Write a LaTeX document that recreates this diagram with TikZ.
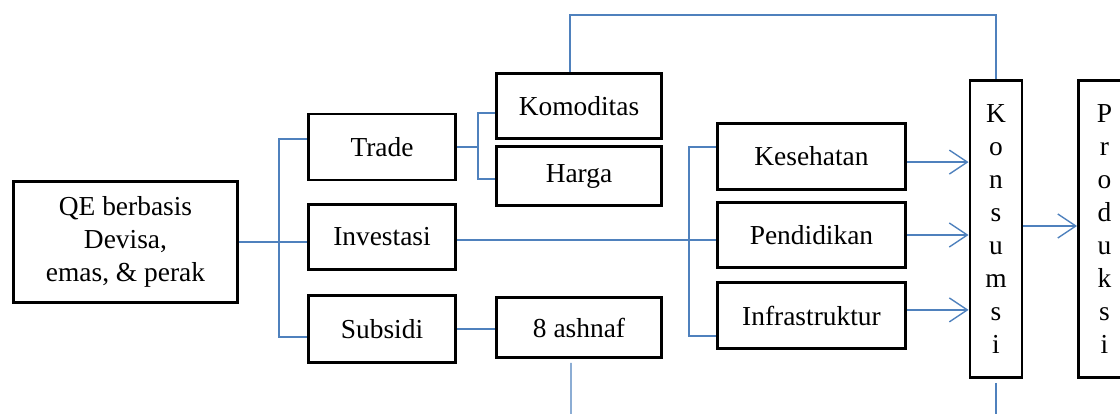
\documentclass[tikz,border=0pt]{standalone}
\usepackage{fontspec}
\setmainfont{Liberation Serif}
\usetikzlibrary{arrows.meta}
\definecolor{lineblue}{RGB}{79,129,189}

\begin{document}
\begin{tikzpicture}[x=0.025cm, y=-0.025cm,
        box/.style={draw, line width=2pt, inner sep=0pt, align=center, font=\fontsize{19.5}{23.4}\selectfont},
        link/.style={draw=lineblue, line width=1pt},
        arr/.style={link, -{Straight Barb[length=0.45cm, width=0.6cm]}}]

    \clip (0,0) rectangle (1120,414);

    % kiri
    \node[box, minimum width=5.6cm, minimum height=3.025cm] (qe) at (125.5,242) {QE berbasis\\Devisa,\\emas, \& perak};

    \node[box, minimum width=3.675cm, minimum height=1.65cm] (trade) at (382,147) {Trade};
    \node[box, minimum width=3.675cm, minimum height=1.625cm] (invest) at (382,237) {Investasi};
    \node[box, minimum width=3.675cm, minimum height=1.675cm] (subsidi) at (382,329) {Subsidi};

    \node[box, minimum width=4.125cm, minimum height=1.625cm] (komoditas) at (579,106) {Komoditas};
    \node[box, minimum width=4.125cm, minimum height=1.475cm] (harga) at (579,176) {Harga};
    \node[box, minimum width=4.125cm, minimum height=1.5cm] (ashnaf) at (579,327.5) {8 ashnaf};

    % kanan
    \node[box, minimum width=4.7cm, minimum height=1.65cm] (kes) at (811.5,156.5) {Kesehatan};
    \node[box, minimum width=4.7cm, minimum height=1.625cm] (pend) at (811.5,235) {Pendidikan};
    \node[box, minimum width=4.7cm, minimum height=1.65cm] (infra) at (811.5,315.5) {Infrastruktur};

    \node[box, minimum width=1.3cm, minimum height=7.425cm] (kons) at (996,229) {K\\o\\n\\s\\u\\m\\s\\i};
    \node[box, minimum width=1.3cm, minimum height=7.425cm] (prod) at (1104.5,229) {P\\r\\o\\d\\u\\k\\s\\i};

    \coordinate (ashnafout) at (571,420);
    \coordinate (konsout) at (996,420);

    % garis
    \draw[link] (qe.east) -- (qe.east -| invest.west);
    \draw[link] ([yshift=0.2cm]trade.west) -- ++(-28,0) |- ([yshift=-0.2cm]subsidi.west);
    \draw[link] (trade.east) -- ++(21,0) coordinate (tr);
    \draw[link] ([yshift=-0.175cm]komoditas.west) -| (tr) |- ([yshift=-0.075cm]harga.west);
    \draw[link] (subsidi.east) -- (subsidi.east -| ashnaf.west);
    \draw[link] ([xshift=-0.225cm]komoditas.north) -- ++(0,-57) -| (kons.north);
    \draw[link] ([xshift=-0.2cm, yshift=-0.1cm]ashnaf.south) -- (ashnafout);

    \draw[link] (invest.east |- 0,240) -- (pend.west |- 0,240);
    \draw[link] ([yshift=0.24cm]kes.west) -- ++(-27,0) |- ([yshift=-0.51cm]infra.west);

    \draw[arr] ([yshift=-0.14cm]kes.east) -- ([yshift=-0.14cm]kes.east -| kons.west);
    \draw[arr] (pend.east) -- (pend.east -| kons.west);
    \draw[arr] ([yshift=0.14cm]infra.east) -- ([yshift=0.14cm]infra.east -| kons.west);
    \draw[arr] (kons.east |- 0,226) -- (prod.west |- 0,226);
    \draw[link] ([yshift=-0.1cm]kons.south) -- (konsout);

\end{tikzpicture}
\end{document}
